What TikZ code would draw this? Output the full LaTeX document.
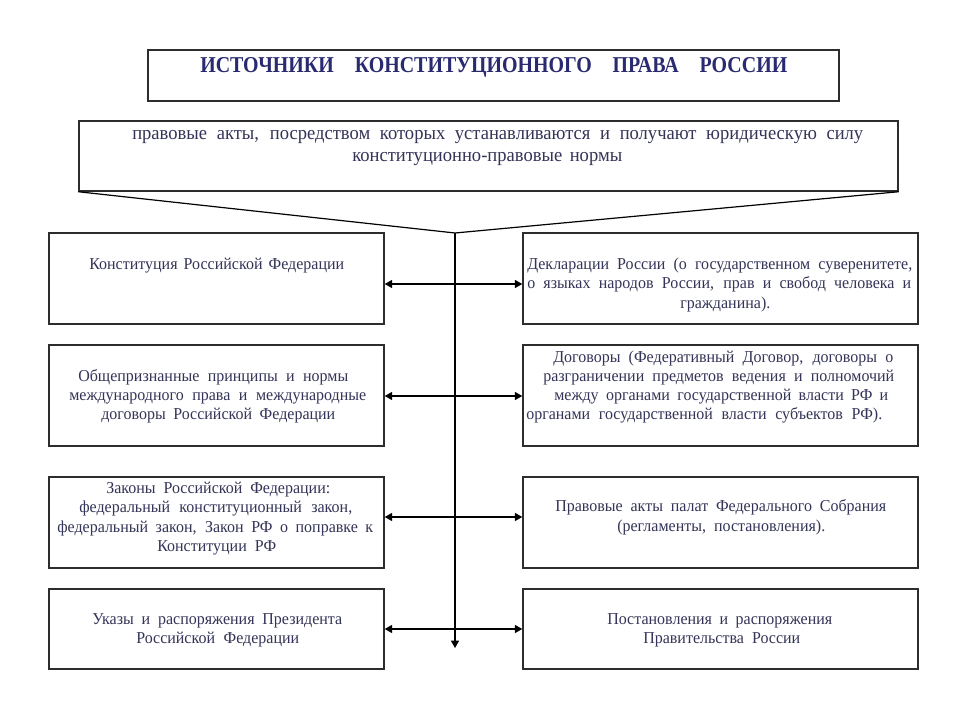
\documentclass[tikz,border=0pt]{standalone}
\usepackage{fontspec}
\setmainfont{Liberation Serif}
\newfontfamily\ttlfont{Liberation Serif}[FakeStretch=0.88]
\newfontfamily\bodyfont{Liberation Serif}[FakeStretch=0.96]
\usetikzlibrary{arrows.meta}
\newlength\pxu \setlength\pxu{0.75pt}
\definecolor{ttlc}{RGB}{42,42,112}
\definecolor{bodyc}{RGB}{52,52,88}
\definecolor{edgec}{RGB}{45,45,45}
\tikzset{
  box/.style={draw=edgec, line width=1.1pt, inner sep=0pt},
  conn/.style={draw=black, line width=0.9pt},
  tip/.style={arrows={-Triangle[length=5.5pt,width=6pt]}},
  dtip/.style={arrows={Triangle[length=5.5pt,width=6pt]-Triangle[length=5.5pt,width=6pt]}},
  bodytx/.style={text=bodyc, font=\bodyfont\fontsize{12.5}{14}\selectfont, inner sep=0pt, anchor=base west},
  subtx/.style={text=bodyc, font=\bodyfont\fontsize{14.5}{16}\selectfont, inner sep=0pt, anchor=base west},
  ttltx/.style={text=ttlc, font=\ttlfont\fontsize{17}{20}\selectfont\bfseries, inner sep=0pt, anchor=base west}
}
% box by corners (px)
\newcommand\Bx[5]{\node[box, minimum width={(#4-#2)*0.75pt}, minimum height={(#5-#3)*0.75pt}] (#1) at ({(#2+#4)/2},{(#3+#5)/2}) {};}
% text line: [style] name, x0, x1, baseline, text
\newcommand\Tx[6][bodytx]{\node[#1] (#2) at (#3,#5) {\makebox[\dimexpr#4\pxu-#3\pxu\relax][s]{#6}};}
\begin{document}
\begin{tikzpicture}[x=0.75pt,y=-0.75pt]
\fill[white] (0,0) rectangle (960,720);
\useasboundingbox (0,0) rectangle (960,720);

% boxes
\Bx{T}{148}{50}{839}{101}
\Bx{S}{79}{121}{898}{191}
\Bx{L1}{49}{233}{384}{324}
\Bx{L2}{49}{345}{384}{446}
\Bx{L3}{49}{477}{384}{568}
\Bx{L4}{49}{589}{384}{669}
\Bx{R1}{523}{233}{918}{324}
\Bx{R2}{523}{345}{918}{446}
\Bx{R3}{523}{477}{918}{568}
\Bx{R4}{523}{589}{918}{669}

% funnel and trunk
\coordinate (apex) at (455,233);
\coordinate (trunkend) at (455,648);
\draw[conn] (S.south west) -- (apex) -- (S.south east);
\draw[conn, tip] (apex) -- (trunkend);

% double arrows
\draw[conn, dtip] (L1.east |- 0,284) -- (R1.west |- 0,284);
\draw[conn, dtip] (L2.east |- 0,396) -- (R2.west |- 0,396);
\draw[conn, dtip] (L3.east |- 0,517) -- (R3.west |- 0,517);
\draw[conn, dtip] (L4.east |- 0,629) -- (R4.west |- 0,629);

% title
\Tx[ttltx]{t1}{200}{787}{73}{ИСТОЧНИКИ  КОНСТИТУЦИОННОГО  ПРАВА  РОССИИ}
% subtitle
\Tx[subtx]{s1}{132}{863}{140}{правовые акты, посредством которых устанавливаются и получают юридическую силу}
\Tx[subtx]{s2}{352}{622}{162}{конституционно-правовые нормы}

% left column
\Tx{l1a}{89}{344}{270}{Конституция Российской Федерации}
\Tx{l2a}{78}{348}{381}{Общепризнанные принципы и нормы}
\Tx{l2b}{69}{366}{400}{международного права и международные}
\Tx{l2c}{101}{335}{419}{договоры Российской Федерации}
\Tx{l3a}{106}{330}{493}{Законы Российской Федерации:}
\Tx{l3b}{79}{352}{512}{федеральный конституционный закон,}
\Tx{l3c}{57}{373}{532}{федеральный закон, Закон РФ о поправке к}
\Tx{l3d}{157}{276}{551}{Конституции РФ}
\Tx{l4a}{92}{342}{624}{Указы и распоряжения Президента}
\Tx{l4b}{136}{299}{643}{Российской Федерации}

% right column
\Tx{r1a}{527}{912}{270}{Декларации России (о государственном суверенитете,}
\Tx{r1b}{527}{911}{289}{о языках народов России, прав и свобод человека и}
\Tx{r1c}{680}{765}{308}{гражданина).}
\Tx{r2a}{553}{893}{362}{Договоры (Федеративный Договор, договоры о}
\Tx{r2b}{543}{894}{381}{разграничении предметов ведения и полномочий}
\Tx{r2c}{554}{888}{400}{между органами государственной власти РФ и}
\Tx{r2d}{526}{882}{419}{органами государственной власти субъектов РФ).}
\Tx{r3a}{555}{886}{511}{Правовые акты палат Федерального Собрания}
\Tx{r3b}{617}{825}{531}{(регламенты, постановления).}
\Tx{r4a}{607}{832}{624}{Постановления и распоряжения}
\Tx{r4b}{643}{800}{643}{Правительства России}
\end{tikzpicture}
\end{document}
